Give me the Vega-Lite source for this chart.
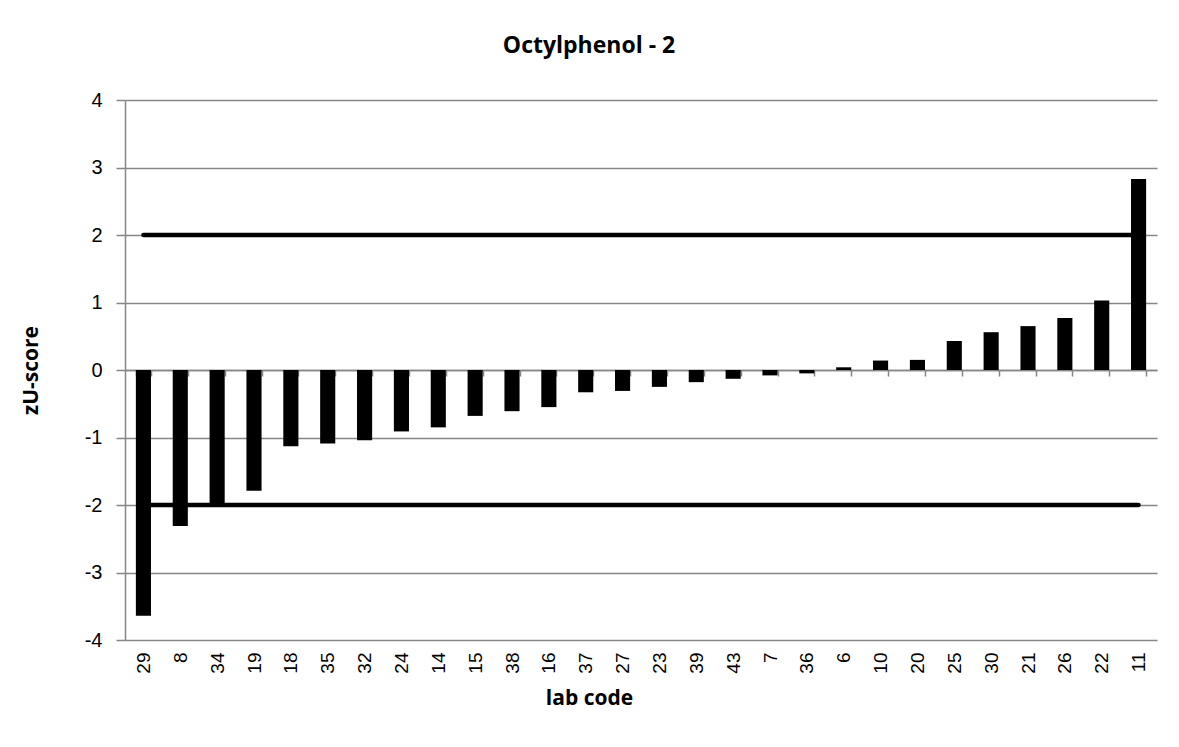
{
  "$schema": "https://vega.github.io/schema/vega-lite/v6.json",
  "autosize": "none",
  "width": 1032,
  "height": 540,
  "padding": {"left": 125, "top": 100, "right": 22, "bottom": 107},
  "background": "white",
  "config": {"view": {"stroke": null}},
  "title": {
    "text": "Octylphenol - 2",
    "font": "Open Sans",
    "fontSize": 23,
    "fontWeight": "bold",
    "color": "black",
    "anchor": "middle",
    "dx": -52,
    "offset": 32
  },
  "data": {
    "values": [
      {"lab": "29", "z": -3.64, "upper": 2, "lower": -2},
      {"lab": "8", "z": -2.31, "upper": 2, "lower": -2},
      {"lab": "34", "z": -2.02, "upper": 2, "lower": -2},
      {"lab": "19", "z": -1.79, "upper": 2, "lower": -2},
      {"lab": "18", "z": -1.13, "upper": 2, "lower": -2},
      {"lab": "35", "z": -1.09, "upper": 2, "lower": -2},
      {"lab": "32", "z": -1.04, "upper": 2, "lower": -2},
      {"lab": "24", "z": -0.91, "upper": 2, "lower": -2},
      {"lab": "14", "z": -0.85, "upper": 2, "lower": -2},
      {"lab": "15", "z": -0.68, "upper": 2, "lower": -2},
      {"lab": "38", "z": -0.61, "upper": 2, "lower": -2},
      {"lab": "16", "z": -0.55, "upper": 2, "lower": -2},
      {"lab": "37", "z": -0.33, "upper": 2, "lower": -2},
      {"lab": "27", "z": -0.31, "upper": 2, "lower": -2},
      {"lab": "23", "z": -0.25, "upper": 2, "lower": -2},
      {"lab": "39", "z": -0.18, "upper": 2, "lower": -2},
      {"lab": "43", "z": -0.13, "upper": 2, "lower": -2},
      {"lab": "7", "z": -0.08, "upper": 2, "lower": -2},
      {"lab": "36", "z": -0.05, "upper": 2, "lower": -2},
      {"lab": "6", "z": 0.04, "upper": 2, "lower": -2},
      {"lab": "10", "z": 0.14, "upper": 2, "lower": -2},
      {"lab": "20", "z": 0.15, "upper": 2, "lower": -2},
      {"lab": "25", "z": 0.43, "upper": 2, "lower": -2},
      {"lab": "30", "z": 0.56, "upper": 2, "lower": -2},
      {"lab": "21", "z": 0.65, "upper": 2, "lower": -2},
      {"lab": "26", "z": 0.77, "upper": 2, "lower": -2},
      {"lab": "22", "z": 1.03, "upper": 2, "lower": -2},
      {"lab": "11", "z": 2.83, "upper": 2, "lower": -2}
    ]
  },
  "encoding": {
    "x": {
      "field": "lab",
      "type": "nominal",
      "sort": null,
      "scale": {"paddingInner": 0.59, "paddingOuter": 0.295},
      "axis": {
        "title": "lab code",
        "titleFont": "Open Sans",
        "titleFontSize": 21,
        "titleFontWeight": "bold",
        "titleColor": "black",
        "titlePadding": 117,
        "titleX": 464,
        "offset": -270,
        "domainColor": "#868686",
        "domainWidth": 1.5,
        "tickColor": "#868686",
        "tickWidth": 1.5,
        "tickSize": 6,
        "tickBand": "extent",
        "labelAngle": 270,
        "labelAlign": "right",
        "labelBaseline": "middle",
        "labelFont": "Liberation Sans",
        "labelFontSize": 19,
        "labelColor": "black",
        "labelPadding": 276,
        "grid": false
      }
    }
  },
  "layer": [
    {
      "mark": {"type": "bar", "color": "black"},
      "encoding": {
        "y": {
          "field": "z",
          "type": "quantitative",
          "scale": {"domain": [-4, 4], "nice": false},
          "axis": {
            "title": "zU-score",
            "titleFont": "Open Sans",
            "titleFontSize": 21,
            "titleFontWeight": "bold",
            "titleColor": "black",
            "titlePadding": 43,
            "values": [-4, -3, -2, -1, 0, 1, 2, 3, 4],
            "labelExpr": "'' + datum.value",
            "domainColor": "#868686",
            "domainWidth": 1.5,
            "tickColor": "#868686",
            "tickWidth": 1.5,
            "tickSize": 9,
            "labelFont": "Liberation Sans",
            "labelFontSize": 20,
            "labelColor": "black",
            "labelPadding": 14,
            "grid": true,
            "gridColor": "#868686",
            "gridWidth": 1.5
          }
        }
      }
    },
    {
      "mark": {"type": "line", "color": "black", "strokeWidth": 4.5, "strokeCap": "round"},
      "encoding": {"y": {"field": "upper", "type": "quantitative"}}
    },
    {
      "mark": {"type": "line", "color": "black", "strokeWidth": 4.5, "strokeCap": "round"},
      "encoding": {"y": {"field": "lower", "type": "quantitative"}}
    }
  ]
}
